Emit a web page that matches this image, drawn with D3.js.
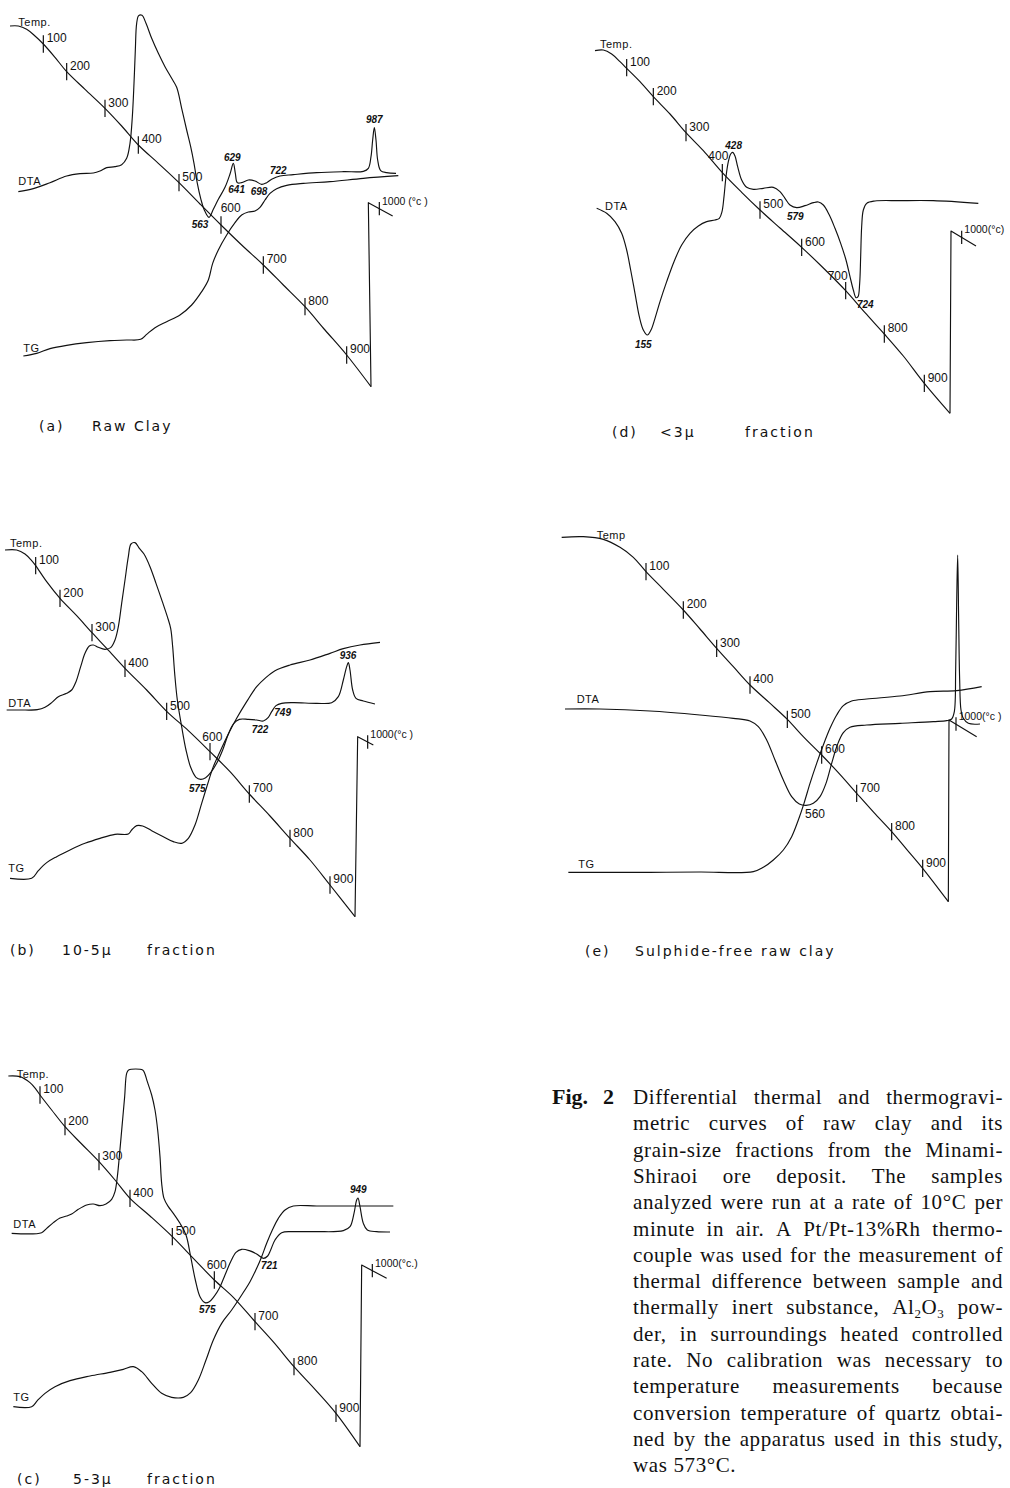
<!DOCTYPE html>
<meta charset="utf-8">
<style>
body { margin: 0; background: #fff; }
svg { display: block; background: #fff; }
.curve { fill: none; stroke: #111; stroke-width: 1.15px; stroke-linejoin: round; }
.tick { stroke: #111; stroke-width: 1.2px; }
.tlab { font-family: "Liberation Sans", Arial, sans-serif; font-size: 12px; fill: #111; }
.ulab { font-family: "Liberation Sans", Arial, sans-serif; font-size: 10.5px; fill: #111; }
.peak { font-family: "Liberation Sans", Arial, sans-serif; font-size: 10px; font-style: italic; font-weight: bold; fill: #111; }
.peak.plain { font-style: normal; font-weight: normal; font-size: 12px; }
.series { font-family: "Liberation Sans", Arial, sans-serif; font-size: 11px; fill: #111; letter-spacing: 0.5px; }
.cap { font-family: "DejaVu Sans", sans-serif; font-size: 14px; letter-spacing: 2px; fill: #111; }
.fig { font-family: "Liberation Serif", "Times New Roman", serif; font-size: 21px; letter-spacing: 0.6px; fill: #111; }
.figno { font-family: "Liberation Serif", serif; font-size: 22px; font-weight: bold; fill: #111; }
.sub { font-size: 13px; }
</style>
<svg width="1010" height="1488"></svg>
<script src="https://d3js.org/d3.v7.min.js"></script>
<script>
// digitised chart-paper units (3 units per px of the scan), y measured downward from each panel top

// ---- (a) Raw Clay ----
var tempA = [[30,78],[55,78],[80,88],[105,108],[130,132],[165,172],[200,215],[255,268],[315,325],[365,378],[415,435],[475,490],[537,548],[600,612],[663,675],[725,735],[790,795],[850,855],[915,920],[975,990],[1040,1065],[1113,1160]];
var resetA = [[1113,1160],[1105,608],[1178,648]];
var dtaA = [[55,575],[100,566],[150,548],[200,528],[240,521],[280,519],[300,513],[320,503],[345,500],[365,494],[380,475],[390,430],[397,350],[402,250],[406,150],[410,70],[416,47],[426,46],[438,70],[455,115],[475,160],[495,200],[515,235],[530,262],[545,325],[560,390],[572,440],[582,490],[592,550],[602,595],[612,628],[627,652],[640,628],[655,598],[675,562],[690,522],[700,490],[706,520],[712,548],[725,548],[745,540],[765,543],[785,553],[800,548],[815,538],[840,528],[880,524],[950,518],[1030,515],[1090,514],[1105,505],[1113,470],[1118,420],[1123,383],[1128,420],[1133,480],[1142,512],[1160,518],[1188,520]];
var tgA = [[70,1068],[110,1060],[150,1046],[200,1036],[260,1028],[330,1022],[380,1020],[422,1018],[440,1003],[465,983],[500,965],[540,945],[575,915],[605,875],[625,840],[638,790],[655,750],[680,705],[705,668],[725,645],[745,636],[765,633],[780,622],[795,600],[810,580],[830,566],[860,556],[910,550],[990,545],[1090,535],[1195,527]];
var ticksA = [[100,130,132],[200,200,215],[300,315,325],[400,415,435],[500,537,548],[600,663,675],[700,790,795],[800,915,920],[900,1040,1065],[1000,1138,626]];
var peaksA = [["563",600,683],["629",697,482],["641",710,580],["698",777,585],["722",835,523],["987",1123,370]];
var namesA = [["Temp.",55,78],["DTA",55,555],["TG",70,1055]];

// ---- (d) <3μ fraction ----
var tempD = [[135,62],[160,60],[185,72],[210,95],[230,115],[270,155],[310,200],[360,252],[408,308],[460,362],[517,428],[575,487],[630,540],[690,594],[755,652],[820,714],[887,782],[945,848],[1003,912],[1060,978],[1123,1060],[1200,1150]];
var resetD = [[1200,1150],[1203,603],[1278,648]];
var dtaD = [[140,535],[170,550],[195,575],[215,610],[230,660],[242,720],[255,790],[268,860],[280,900],[292,915],[303,900],[315,865],[330,815],[350,755],[372,695],[395,645],[420,610],[445,588],[470,575],[495,570],[508,565],[516,545],[522,500],[528,440],[535,395],[542,372],[548,367],[555,378],[563,410],[575,450],[590,472],[610,478],[640,475],[670,472],[690,485],[705,505],[720,525],[740,533],[765,527],[790,518],[805,516],[820,525],[838,555],[855,595],[872,640],[888,690],[900,740],[910,780],[918,803],[924,800],[929,760],[932,680],[935,590],[940,540],[950,520],[975,513],[1050,512],[1150,512],[1285,520]];
var ticksD = [[100,230,113],[200,310,200],[300,408,308],[400,517,428],[500,630,540],[600,755,652],[700,887,782],[800,1003,912],[900,1123,1060],[1000,1235,622]];
var peaksD = [["428",551,357],["155",280,953],["579",736,570],["724",946,833]];
var namesD = [["Temp.",150,55],["DTA",165,540]];

// ---- (b) 10-5μ fraction ----
var tempB = [[15,60],[50,60],[75,72],[95,92],[107,107],[140,155],[180,205],[230,257],[276,308],[320,355],[375,415],[440,480],[500,544],[565,602],[630,665],[690,725],[748,792],[810,858],[870,925],[930,990],[990,1065],[1065,1160]];
var resetB = [[1065,1160],[1073,620],[1120,645]];
var dtaB = [[20,540],[60,540],[112,539],[135,532],[155,518],[175,500],[200,490],[215,480],[228,455],[242,410],[255,370],[268,348],[280,345],[295,352],[315,358],[332,353],[345,330],[355,290],[365,220],[375,150],[385,80],[393,42],[405,38],[418,55],[432,72],[450,110],[468,160],[487,215],[502,260],[512,295],[518,350],[524,430],[532,510],[545,590],[558,660],[572,712],[588,742],[602,748],[617,743],[632,728],[650,700],[668,660],[684,615],[700,582],[718,568],[745,568],[770,570],[790,573],[805,562],[815,545],[828,527],[845,520],[880,518],[950,520],[995,518],[1015,500],[1030,450],[1040,410],[1045,398],[1050,420],[1058,480],[1068,505],[1090,513],[1125,522]];
var tgB = [[30,1045],[95,1045],[115,1022],[140,998],[170,980],[210,960],[255,940],[300,925],[345,913],[385,912],[395,900],[410,887],[428,888],[455,902],[490,920],[520,935],[545,940],[565,925],[585,885],[605,820],[622,765],[640,710],[660,665],[685,612],[710,565],[740,515],[770,470],[795,445],[825,422],[870,405],[930,390],[990,370],[1030,356],[1080,345],[1140,337]];
var ticksB = [[100,107,107],[200,180,205],[300,276,308],[400,375,415],[500,500,544],[600,630,665],[700,748,792],[800,870,925],[900,990,1065],[1000,1103,636]];
var peaksB = [["575",592,785],["722",780,608],["749",848,558],["936",1044,388]];
var namesB = [["Temp.",30,50],["DTA",25,530],["TG",25,1025]];

// ---- (e) Sulphide-free raw clay ----
var tempE = [[35,52],[100,50],[160,58],[210,82],[250,112],[288,155],[340,208],[400,270],[450,327],[500,385],[550,440],[600,495],[658,548],[712,598],[762,652],[815,705],[865,758],[920,820],[972,878],[1025,935],[1070,988],[1118,1045],[1195,1145]];
var resetE = [[1195,1145],[1197,600],[1280,650]];
var dtaE = [[45,567],[150,567],[300,573],[450,585],[550,595],[600,603],[625,620],[650,660],[675,720],[700,780],[725,830],[748,852],[768,856],[790,850],[810,830],[828,790],[845,730],[862,675],[880,638],[900,622],[950,615],[1050,610],[1150,605],[1190,602],[1205,597],[1213,575],[1217,450],[1220,250],[1223,105],[1226,300],[1229,480],[1233,570],[1240,595],[1255,610],[1290,612]];
var tgE = [[55,1057],[150,1057],[300,1057],[450,1056],[610,1055],[640,1042],[670,1020],[700,990],[725,950],[745,900],[762,850],[780,790],[800,730],[820,675],[840,625],[860,585],[880,557],[905,543],[950,537],[1050,528],[1140,515],[1220,512],[1295,500]];
var ticksE = [[100,288,155],[200,400,270],[300,500,385],[400,600,495],[500,712,598],[600,815,705],[700,920,820],[800,1025,935],[900,1118,1045],[1000,1218,612]];
var peaksE = [["560",795,893]];
var namesE = [["Temp",140,58],["DTA",80,550],["TG",85,1043]];

// ---- (c) 5-3μ fraction ----
var tempC = [[25,48],[60,50],[90,68],[108,88],[120,105],[155,150],[195,200],[245,252],[297,305],[345,360],[390,415],[450,468],[517,530],[580,595],[643,660],[700,712],[765,785],[822,848],[882,920],[945,988],[1008,1060],[1080,1160]];
var resetC = [[1080,1160],[1085,615],[1160,655]];
var dtaC = [[35,520],[125,518],[140,505],[160,488],[180,474],[200,468],[215,462],[235,448],[260,435],[280,432],[300,437],[318,432],[335,418],[345,395],[352,350],[358,290],[366,200],[374,110],[380,40],[386,30],[428,30],[434,40],[442,65],[455,105],[465,150],[473,210],[480,290],[485,370],[492,415],[505,440],[520,460],[540,490],[558,525],[572,590],[586,660],[600,710],[615,728],[628,725],[642,710],[658,685],[675,645],[692,605],[708,577],[725,568],[748,572],[770,582],[790,595],[803,588],[812,570],[825,540],[845,518],[880,515],[950,515],[1030,512],[1050,500],[1062,460],[1070,420],[1074,414],[1080,440],[1090,490],[1102,510],[1130,515],[1170,516]];
var tgC = [[40,1040],[95,1040],[112,1022],[135,1000],[165,980],[210,962],[270,948],[330,937],[370,928],[400,920],[425,935],[455,970],[485,1000],[515,1012],[550,1012],[572,998],[595,960],[618,900],[640,840],[665,790],[695,750],[725,705],[750,665],[770,625],[785,590],[800,550],[818,508],[835,475],[855,450],[880,438],[950,438],[1060,438],[1180,438]];
var ticksC = [[100,120,105],[200,195,200],[300,297,305],[400,390,415],[500,517,530],[600,643,660],[700,765,785],[800,882,920],[900,1008,1060],[1000,1117,632]];
var peaksC = [["575",622,758],["721",808,626],["949",1075,398]];
var namesC = [["Temp.",50,55],["DTA",40,505],["TG",40,1022]];

// panel captions and unit labels
var captionA = ["(a)", "Raw Clay"];
var captionB = ["(b)", "10-5μ", "fraction"];
var captionC = ["(c)", "5-3μ", "fraction"];
var captionD = ["(d)", "<3μ", "fraction"];
var captionE = ["(e)", "Sulphide-free raw clay"];
var unitLabels = ["1000 (°c )", "1000(°c )", "1000(°c.)", "1000(°c)", "1000(°c )"];

// figure legend text
var figNumber = ["Fig.", "2"];
var figLines = [
  "Differential thermal and thermogravi-",
  "metric curves of raw clay and its",
  "grain-size fractions from the Minami-",
  "Shiraoi ore deposit. The samples",
  "analyzed were run at a rate of 10°C per",
  "minute in air.  A Pt/Pt-13%Rh thermo-",
  "couple was used for the measurement of",
  "thermal difference between sample and",
  "thermally inert substance, Al_2O_3 pow-",
  "der, in surroundings heated controlled",
  "rate.  No calibration was necessary to",
  "temperature measurements because",
  "conversion temperature of quartz obtai-",
  "ned by the apparatus used in this study,",
  "was 573°C."
];

var svg = d3.select("svg");

var panels = [
  {ox: 0,   oy: 0,    w: 420, temp: tempA, reset: resetA, dta: dtaA, tg: tgA, ticks: ticksA, peaks: peaksA, names: namesA, unit: unitLabels[0],
   place: {600: [29, -40, "middle"]}, cap: captionA, capX: [39, 92], capY: 431},
  {ox: 0,   oy: 530,  w: 420, temp: tempB, reset: resetB, dta: dtaB, tg: tgB, ticks: ticksB, peaks: peaksB, names: namesB, unit: unitLabels[1],
   place: {600: [7, -32, "middle"]}, cap: captionB, capX: [10, 62, 147], capY: 955},
  {ox: 0,   oy: 1060, w: 420, temp: tempC, reset: resetC, dta: dtaC, tg: tgC, ticks: ticksC, peaks: peaksC, names: namesC, unit: unitLabels[2],
   place: {600: [7, -32, "middle"]}, cap: captionC, capX: [17, 73, 147], capY: 1484},
  {ox: 550, oy: 30,   w: 460, temp: tempD, reset: resetD, dta: dtaD, tg: null, ticks: ticksD, peaks: peaksD, names: namesD, unit: unitLabels[3],
   place: {400: [18, -38, "end"], 700: [6, -33, "end"]}, cap: captionD, capX: [612, 660, 745], capY: 437},
  {ox: 550, oy: 520,  w: 460, temp: tempE, reset: resetE, dta: dtaE, tg: tgE, ticks: ticksE, peaks: peaksE, names: namesE, unit: unitLabels[4],
   place: {}, cap: captionE, capX: [585, 635], capY: 956, plainPeaks: true}
];

panels.forEach(function(p) {
  var x = d3.scaleLinear().domain([0, p.w * 3]).range([p.ox, p.ox + p.w]);
  var y = d3.scaleLinear().domain([0, 1200]).range([p.oy, p.oy + 400]);

  var smooth = d3.line()
      .x(function(d) { return x(d[0]); })
      .y(function(d) { return y(d[1]); })
      .curve(d3.curveCatmullRom.alpha(0.5));
  var straight = d3.line()
      .x(function(d) { return x(d[0]); })
      .y(function(d) { return y(d[1]); });

  var g = svg.append("g");

  [p.temp, p.dta, p.tg].forEach(function(c) {
    if (c) g.append("path").attr("class", "curve").attr("d", smooth(c));
  });
  g.append("path").attr("class", "curve").attr("d", straight(p.reset));

  // temperature marks on the Temp curve
  p.ticks.forEach(function(t) {
    var half = t[0] === 1000 ? 20 : 26;
    g.append("line").attr("class", "tick")
      .attr("x1", x(t[1])).attr("x2", x(t[1]))
      .attr("y1", y(t[2] - half)).attr("y2", y(t[2] + half));
    var lab = g.append("text");
    if (t[0] === 1000) {
      lab.attr("class", "ulab").attr("x", x(t[1] + 8)).attr("y", y(t[2] - 12)).text(p.unit);
    } else {
      var pl = p.place[t[0]] || [10, -5, "start"];
      lab.attr("class", "tlab")
        .attr("x", x(t[1] + pl[0])).attr("y", y(t[2] + pl[1]))
        .attr("text-anchor", pl[2]).text(t[0]);
    }
  });

  // peak temperatures
  p.peaks.forEach(function(k) {
    g.append("text").attr("class", p.plainPeaks ? "peak plain" : "peak")
      .attr("x", x(k[1])).attr("y", y(k[2]))
      .attr("text-anchor", "middle").text(k[0]);
  });

  // curve names
  p.names.forEach(function(n) {
    g.append("text").attr("class", "series")
      .attr("x", x(n[1])).attr("y", y(n[2])).text(n[0]);
  });

  // panel caption
  p.cap.forEach(function(s, i) {
    svg.append("text").attr("class", "cap")
      .attr("x", p.capX[i]).attr("y", p.capY).text(s);
  });
});

// ---- Fig. 2 legend, justified ----
var fx0 = 633, fx1 = 1003, fy0 = 1104, fdy = 26.3;

svg.append("text").attr("class", "figno").attr("x", 552).attr("y", fy0).text(figNumber[0]);
svg.append("text").attr("class", "figno").attr("x", 603).attr("y", fy0).text(figNumber[1]);

function addWord(g, w, px, py) {
  var t = g.append("text").attr("class", "fig").attr("x", px).attr("y", py);
  var lowered = false;
  w.split(/(_\d)/).forEach(function(s) {
    if (!s) return;
    if (s[0] === "_") {
      t.append("tspan").attr("class", "sub").attr("dy", lowered ? 0 : 4).text(s.slice(1));
      lowered = true;
    } else {
      t.append("tspan").attr("dy", lowered ? -4 : 0).text(s);
      lowered = false;
    }
  });
  return t;
}

figLines.forEach(function(line, i) {
  var g = svg.append("g");
  var words = line.split(/\s+/);
  var py = fy0 + i * fdy;
  var widths = words.map(function(w) {
    var t = addWord(g, w, 0, py);
    var wd = t.node().getComputedTextLength();
    t.remove();
    return wd;
  });
  var total = d3.sum(widths);
  var last = i === figLines.length - 1;
  var gap = last ? 6 : (fx1 - fx0 - total) / (words.length - 1);
  var cx = fx0;
  words.forEach(function(w, j) {
    addWord(g, w, cx, py);
    cx += widths[j] + gap;
  });
});
</script>
